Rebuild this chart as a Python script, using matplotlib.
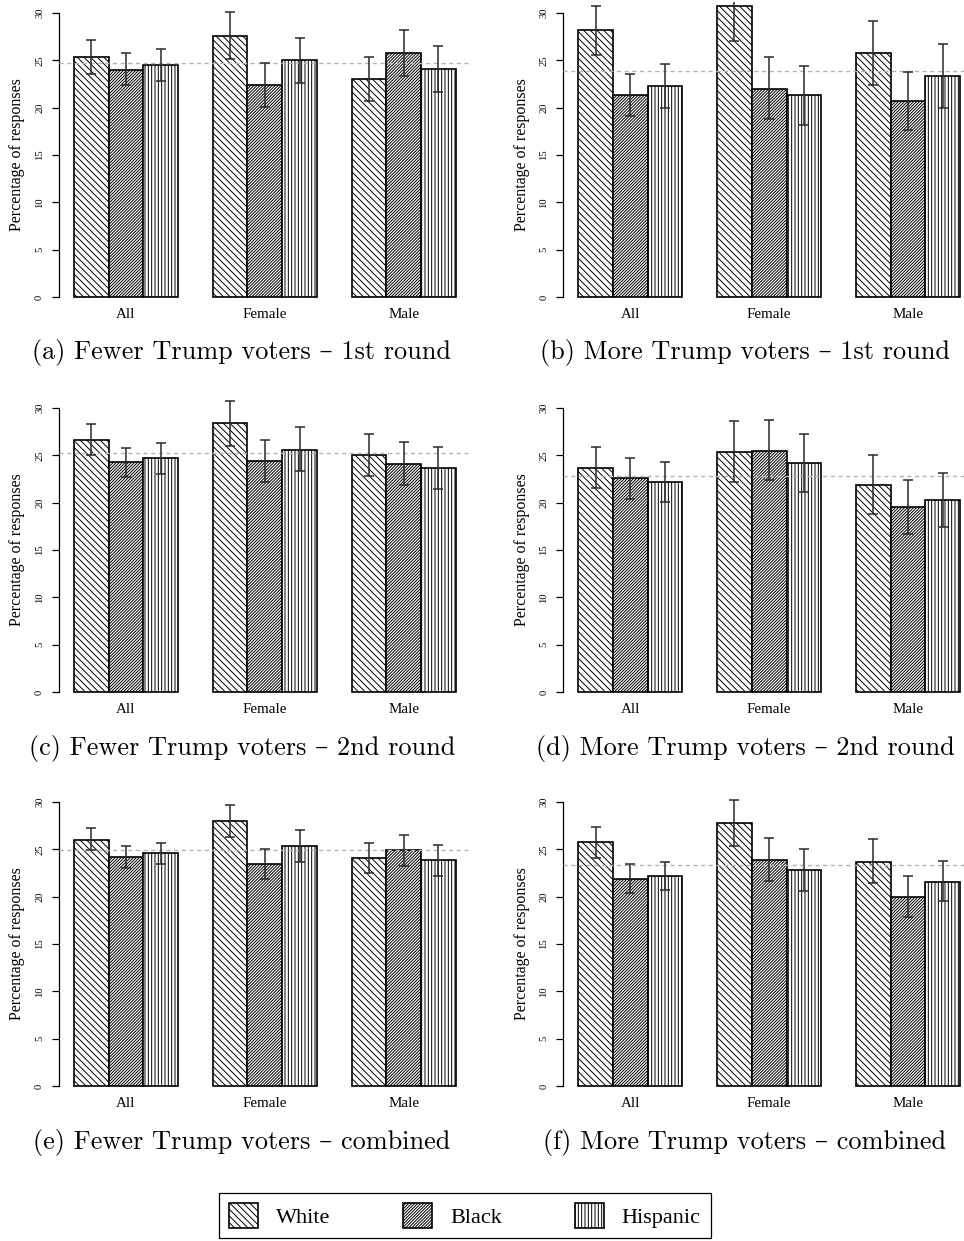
import numpy as np
import matplotlib.pyplot as plt

plt.rcParams['font.family'] = ['Liberation Serif', 'DejaVu Serif']
plt.rcParams['hatch.linewidth'] = 0.7

groups = ['All', 'Female', 'Male']
races = ['White', 'Black', 'Hispanic']
hatches = ['\\' * 5, '/' * 11, '|' * 5]

# rows = All / Female / Male, columns = White / Black / Hispanic
fewer_r1 = [[25.3, 24.0, 24.5], [27.6, 22.4, 25.0], [23.0, 25.8, 24.1]]
fewer_r1_lo = [[23.6, 22.4, 22.8], [25.1, 20.1, 22.6], [20.7, 23.3, 21.7]]
fewer_r1_hi = [[27.1, 25.8, 26.2], [30.1, 24.7, 27.4], [25.4, 28.2, 26.5]]
fewer_r1_ref = 24.7

more_r1 = [[28.2, 21.3, 22.3], [30.7, 22.0, 21.3], [25.8, 20.7, 23.3]]
more_r1_lo = [[25.6, 19.1, 20.0], [27.0, 18.8, 18.2], [22.4, 17.6, 20.0]]
more_r1_hi = [[30.7, 23.6, 24.6], [34.4, 25.3, 24.4], [29.2, 23.8, 26.7]]
more_r1_ref = 23.9

fewer_r2 = [[26.6, 24.3, 24.7], [28.4, 24.4, 25.6], [25.0, 24.1, 23.7]]
fewer_r2_lo = [[25.0, 22.7, 23.0], [26.0, 22.2, 23.3], [22.8, 21.9, 21.4]]
fewer_r2_hi = [[28.3, 25.8, 26.3], [30.7, 26.6, 28.0], [27.2, 26.4, 25.9]]
fewer_r2_ref = 25.2

more_r2 = [[23.7, 22.6, 22.2], [25.4, 25.5, 24.2], [21.9, 19.5, 20.3]]
more_r2_lo = [[21.5, 20.4, 20.1], [22.2, 22.4, 21.1], [18.8, 16.7, 17.4]]
more_r2_hi = [[25.9, 24.7, 24.3], [28.6, 28.7, 27.2], [25.0, 22.4, 23.1]]
more_r2_ref = 22.8

fewer_all = [[26.0, 24.2, 24.6], [28.0, 23.4, 25.3], [24.1, 24.9, 23.9]]
fewer_all_lo = [[24.9, 23.0, 23.5], [26.3, 21.9, 23.7], [22.5, 23.2, 22.2]]
fewer_all_hi = [[27.2, 25.3, 25.7], [29.7, 25.0, 27.0], [25.7, 26.5, 25.5]]
fewer_all_ref = 24.9

more_all = [[25.8, 21.9, 22.2], [27.8, 23.9, 22.8], [23.7, 20.0, 21.6]]
more_all_lo = [[24.1, 20.4, 20.7], [25.4, 21.7, 20.6], [21.4, 17.9, 19.5]]
more_all_hi = [[27.4, 23.5, 23.7], [30.2, 26.2, 25.0], [26.1, 22.2, 23.8]]
more_all_ref = 23.3

panels = [
    (fewer_r1, fewer_r1_lo, fewer_r1_hi, fewer_r1_ref, '(a) Fewer Trump voters \u2013 1st round'),
    (more_r1, more_r1_lo, more_r1_hi, more_r1_ref, '(b) More Trump voters \u2013 1st round'),
    (fewer_r2, fewer_r2_lo, fewer_r2_hi, fewer_r2_ref, '(c) Fewer Trump voters \u2013 2nd round'),
    (more_r2, more_r2_lo, more_r2_hi, more_r2_ref, '(d) More Trump voters \u2013 2nd round'),
    (fewer_all, fewer_all_lo, fewer_all_hi, fewer_all_ref, '(e) Fewer Trump voters \u2013 combined'),
    (more_all, more_all_lo, more_all_hi, more_all_ref, '(f) More Trump voters \u2013 combined'),
]

W, H = 964, 1241
fig = plt.figure(figsize=(W / 100, H / 100), dpi=100)

# panel frames in pixels (left edge, top edge) -- R style barplot layout
lefts = [58.7, 563.0]
tops = [1.6, 396.6, 790.6]
caption_y = [352, 748, 1143]
caption_x = [242, 745]
ax_w, ax_h = 412.3, 306.8

legend_handles = None
for i, (mean, lo, hi, ref, caption) in enumerate(panels):
    row, col = i // 2, i % 2
    ax = fig.add_axes([lefts[col] / W, 1 - (tops[row] + ax_h) / H, ax_w / W, ax_h / H])
    mean = np.array(mean)
    lo = np.array(lo)
    hi = np.array(hi)

    handles = []
    for k in range(3):
        x = 1 + 4 * np.arange(3) + k + 0.5
        b = ax.bar(x, mean[:, k], width=1.0, color='white', edgecolor='black',
                   linewidth=1.2, hatch=hatches[k], zorder=2, label=races[k])
        handles.append(b)
        ax.errorbar(x, mean[:, k], yerr=[mean[:, k] - lo[:, k], hi[:, k] - mean[:, k]],
                    fmt='none', ecolor='#2a2a2a', elinewidth=1.1, capsize=3.6,
                    capthick=1.1, zorder=4)
    if legend_handles is None:
        legend_handles = handles

    ax.axhline(ref, color='#b5b5b5', linewidth=1.0, linestyle=(0, (3, 2.5)), zorder=3)

    ax.set_xlim(0.56, 12.44)
    ax.set_ylim(-1.2, 31.2)
    for s in ['top', 'right', 'bottom']:
        ax.spines[s].set_visible(False)
    ax.spines['left'].set_bounds(0, 30)
    ax.spines['left'].set_linewidth(0.9)
    ax.set_yticks(range(0, 31, 5))
    ax.tick_params(axis='y', length=5, width=0.9, pad=5.5, labelsize=7.6, labelrotation=90)
    for t in ax.get_yticklabels():
        t.set_va('center')
    ax.set_xticks(1 + 4 * np.arange(3) + 1.5)
    ax.set_xticklabels(groups)
    ax.tick_params(axis='x', length=0, pad=-0.6, labelsize=10.8)
    ax.set_ylabel('Percentage of responses', fontsize=11.5, va='center')
    ax.yaxis.set_label_coords(-0.1, 0.5)

    fig.text(caption_x[col] / W, 1 - caption_y[row] / H, caption,
             family=['cmr10', 'DejaVu Serif'], fontsize=18.9, ha='center', va='center')

leg = fig.legend(legend_handles, races, loc='upper left',
                 bbox_to_anchor=(219 / W, 1 - 1193 / H), ncol=3, fontsize=16,
                 frameon=True, fancybox=False, edgecolor='black', framealpha=1,
                 borderpad=0.45, handlelength=1.3, handleheight=1.35,
                 handletextpad=0.8, columnspacing=3.3, borderaxespad=0)
leg.get_frame().set_linewidth(0.9)

fig.savefig('out.png', dpi=100)
